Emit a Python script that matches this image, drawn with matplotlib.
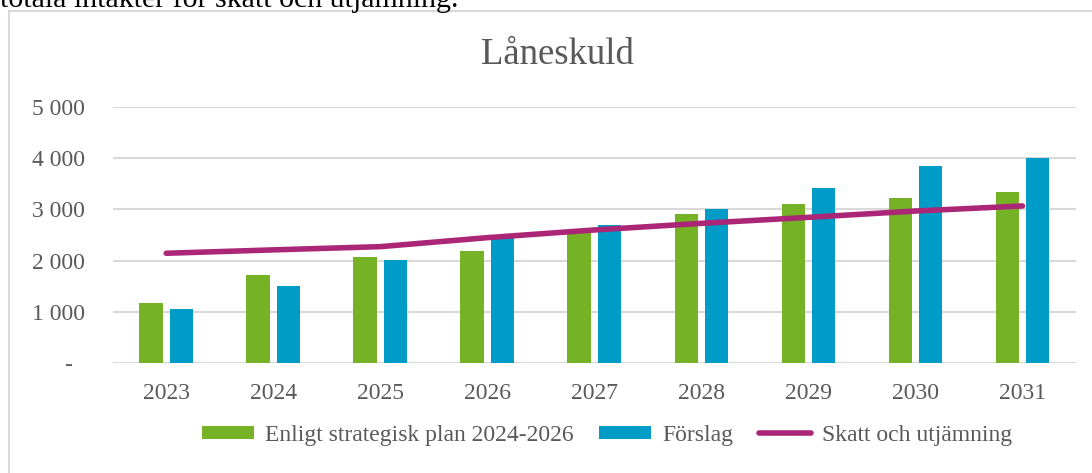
# Låneskuld chart: bars for plan vs proposal, line for tax/equalisation.

import numpy as np
import matplotlib.pyplot as plt
from matplotlib.patches import Rectangle

# --------------------------- DATA ---------------------------

years = ['2023', '2024', '2025', '2026', '2027', '2028', '2029', '2030', '2031']
plan = [1170, 1715, 2066, 2189, 2550, 2918, 3113, 3230, 3341]         # Enligt strategisk plan 2024-2026
forslag = [1058, 1507, 2008, 2501, 2696, 3002, 3419, 3854, 4004]      # Förslag
skatt = [2144, 2210, 2273, 2448, 2598, 2727, 2844, 2967, 3066]        # Skatt och utjämning

ytick_vals = [0, 1000, 2000, 3000, 4000, 5000]
ytick_labels = ['-  ', '1 000', '2 000', '3 000', '4 000', '5 000']

# --------------------------- STYLE ---------------------------

plt.rcParams['font.family'] = ['Liberation Serif', 'DejaVu Serif']
text_col = '#595959'
grid_col = '#d9d9d9'
green = '#76b226'
blue = '#009cc8'
purple = '#ab2676'

W, H = 1092, 473
fig = plt.figure(figsize=(W / 100, H / 100), dpi=100)
ax = fig.add_axes([112.7 / W, 1 - 363.3 / H, (1076 - 112.7) / W, (363.3 - 106.7) / H])

# --------------------------- PLOT ---------------------------

x = np.arange(len(years))
bw = 0.22
off = 0.141
b1 = ax.bar(x - off, plan, width=bw, color=green, label='Enligt strategisk plan 2024-2026', zorder=2)
b2 = ax.bar(x + off, forslag, width=bw, color=blue, label='Förslag', zorder=2)
l1, = ax.plot(x, skatt, color=purple, lw=4, solid_capstyle='round', label='Skatt och utjämning', zorder=3)

ax.set_xlim(-0.5, len(years) - 0.5)
ax.set_ylim(0, 5000)
ax.set_yticks(ytick_vals)
ax.set_yticklabels(ytick_labels)
ax.set_xticks(x)
ax.set_xticklabels(years)
ax.tick_params(axis='both', length=0, labelsize=17, labelcolor=text_col)
ax.tick_params(axis='y', pad=20)
ax.tick_params(axis='x', pad=14)
ax.grid(axis='y', color=grid_col, lw=1.5, zorder=0)
ax.set_axisbelow(True)
for s in ax.spines.values():
    s.set_visible(False)

leg = ax.legend(handles=[b1, b2, l1], loc='center', bbox_to_anchor=(607 / W, 1 - 435 / H),
                bbox_transform=fig.transFigure, ncol=3, frameon=False, fontsize=17,
                handlelength=2.2, handleheight=0.47, handletextpad=0.45, columnspacing=1.1,
                borderpad=0)
for t in leg.get_texts():
    t.set_color(text_col)

# Title and surrounding document bits.
fig.text(557 / W, 1 - 55 / H, 'Låneskuld', ha='center', va='center', fontsize=26.5, color=text_col)
fig.text(0.0, 1 - 7 / H, 'totala intäkter för skatt och utjämning.', ha='left', va='baseline',
         fontsize=21.5, color='black')
fig.patches.append(Rectangle((8.5 / W, -0.1), 1.2, 1.1 - 11 / H, transform=fig.transFigure,
                             fill=False, edgecolor=grid_col, lw=1.5))

fig.savefig('out.png', dpi=100)
